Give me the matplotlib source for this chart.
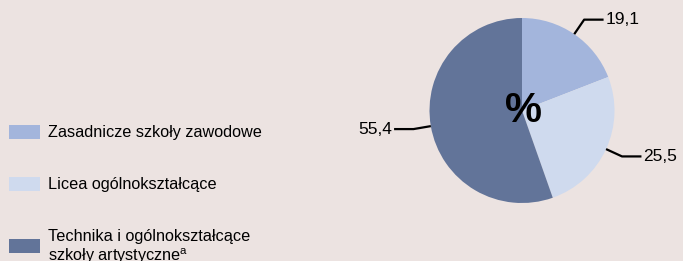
import numpy as np
import matplotlib.pyplot as plt
from matplotlib.patches import Rectangle

plt.rcParams['font.family'] = ['Liberation Sans', 'DejaVu Sans']

# dane
categories = ['Zasadnicze szkoły zawodowe', 'Licea ogólnokształcące',
              'Technika i ogólnokształcące\nszkoły artystyczne$^{\\mathregular{a}}$']
values = [19.1, 25.5, 55.4]
value_labels = ['19,1', '25,5', '55,4']
colors = ['#a3b5dc', '#cfdaee', '#627499']
bg = '#ece3e1'

W, H = 683, 261
fig = plt.figure(figsize=(W / 100, H / 100), dpi=100, facecolor=bg)

# wykres kołowy
cx, cy, r = 522, 110.5, 92.5
ax = fig.add_axes([(cx - r) / W, (H - cy - r) / H, 2 * r / W, 2 * r / H])
ax.set_facecolor(bg)
wedges, _ = ax.pie(values, colors=colors, startangle=90, counterclock=False,
                   radius=1, wedgeprops=dict(linewidth=0))
ax.set_xlim(-1, 1)
ax.set_ylim(-1, 1)
ax.set_aspect('equal')
ax.axis('off')

ax.text(0.02, -0.01, '%', ha='center', va='center', fontsize=30, fontweight='bold')

# linie odniesienia
for w, lab in zip(wedges, value_labels):
    ang = np.deg2rad((w.theta1 + w.theta2) / 2)
    x0, y0 = np.cos(ang), np.sin(ang)
    x1, y1 = 1.19 * x0, 1.19 * y0
    side = 1 if x0 > 0 else -1
    x2 = x1 + side * 0.21
    ax.plot([x0, x1, x2], [y0, y1, y1], color='black', lw=1.6, clip_on=False,
            solid_capstyle='butt')
    ax.text(x2 + side * 0.02, y1, lab, ha='left' if side > 0 else 'right',
            va='center', fontsize=12.5)

# legenda
rows_y = [132, 184, 246]
for c, lab, yy in zip(colors, categories, rows_y):
    fig.patches.append(Rectangle((9 / W, 1 - (yy + 7) / H), 31 / W, 14 / H,
                                 transform=fig.transFigure, facecolor=c,
                                 edgecolor='none'))
    if '\n' in lab:
        fig.text(48 / W, 1 - (yy - 16.5) / H, lab, ha='left', va='top',
                 fontsize=11.7, linespacing=1.1)
    else:
        fig.text(48 / W, 1 - yy / H, lab, ha='left', va='center', fontsize=11.7)

fig.savefig('out.png', dpi=100, facecolor=bg)
